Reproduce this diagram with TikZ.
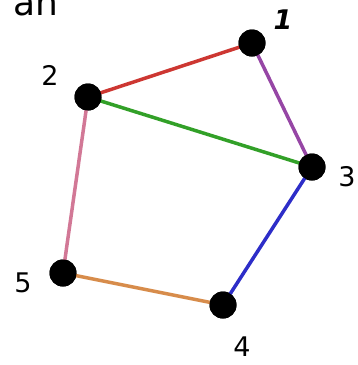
\documentclass[tikz,border=0pt]{standalone}
\usepackage{fontspec}
\setmainfont{DejaVu Sans}
\definecolor{cred}{RGB}{205,55,50}
\definecolor{cpurple}{RGB}{150,70,165}
\definecolor{cgreen}{RGB}{50,160,40}
\definecolor{cblue}{RGB}{45,45,200}
\definecolor{corange}{RGB}{215,140,75}
\definecolor{cpink}{RGB}{210,120,150}
\begin{document}
\begin{tikzpicture}[x=1pt,y=-1pt,
  vert/.style={circle,fill=black,inner sep=0pt,minimum size=27pt},
  lab/.style={font=\fontsize{27}{30}\selectfont,inner sep=0pt},
  edge/.style={line width=3.5pt}]
\useasboundingbox (0,0) rectangle (357,365);
\clip (0,0) rectangle (357,365);
\node[lab,font=\fontsize{36}{40}\selectfont,anchor=base west] (an) at (13,15) {an};
\node[vert] (v1) at (252,43) {};
\node[vert] (v2) at (88,97) {};
\node[vert] (v3) at (312,167) {};
\node[vert] (v4) at (223,305) {};
\node[vert] (v5) at (63,273) {};
\node[lab,font=\fontsize{27}{30}\selectfont\bfseries\itshape] (l1) at (283,20) {1};
\node[lab] (l2) at (50,75) {2};
\node[lab] (l3) at (347,177) {3};
\node[lab] (l4) at (242,347) {4};
\node[lab] (l5) at (23,283) {5};
\draw[edge,cred] (v2.center) -- (v1.center);
\draw[edge,cpurple] (v1.center) -- (v3.center);
\draw[edge,cgreen] (v2.center) -- (v3.center);
\draw[edge,cblue] (v3.center) -- (v4.center);
\draw[edge,corange] (v4.center) -- (v5.center);
\draw[edge,cpink] (v5.center) -- (v2.center);
\foreach \v in {v1,v2,v3,v4,v5} \fill (\v) circle (13.5pt);
\end{tikzpicture}
\end{document}
